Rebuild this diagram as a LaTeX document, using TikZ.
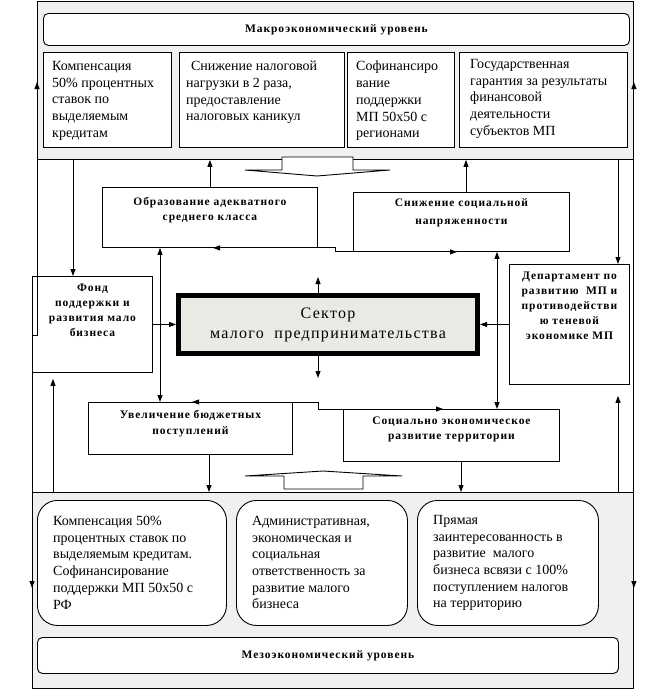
\documentclass[tikz,border=0pt]{standalone}
\usepackage{fontspec}
\setmainfont{Liberation Serif}
\newfontfamily\spfont[LetterSpace=8]{Liberation Serif}
\newfontfamily\spbold[LetterSpace=8]{Liberation Serif Bold}
\usetikzlibrary{positioning,arrows.meta}

\begin{document}
\begin{tikzpicture}[x=1pt, y=-1pt,
    panel/.style={draw, line width=0.9pt, fill=gray!12, anchor=north west, inner sep=0pt},
    box/.style={draw, line width=0.9pt, fill=white, anchor=north west, inner sep=0pt},
    roundbox/.style={box, rounded corners=20pt},
    titlebox/.style={box, rounded corners=5pt, font=\spbold\fontsize{11.5}{14}\selectfont},
    txt/.style={inner sep=0pt, align=left, font=\fontsize{14}{16.7}\selectfont},
    btxt/.style={inner sep=0pt, align=center, font=\spbold\fontsize{11.5}{15}\selectfont},
    arr/.style={line width=0.9pt, -{Triangle[length=7pt,width=5pt]}},
    arrs/.style={line width=0.9pt, {Triangle[length=7pt,width=5pt]}-{Triangle[length=7pt,width=5pt]}}
  ]
  \useasboundingbox[fill=white] (0,0) rectangle (670,699);

  % Макроуровень
  \node[panel, minimum width=596, minimum height=158] (macro) at (37,1) {};
  \node[titlebox, minimum width=586, minimum height=32] (macrotitle) at (43,13) {Макроэкономический уровень};
  \node[box, minimum width=128, minimum height=95] (m1) at (43,52) {};
  \node[box, minimum width=165, minimum height=95] (m2) at (179,52) {};
  \node[box, minimum width=107, minimum height=95] (m3) at (347,52) {};
  \node[box, minimum width=168, minimum height=95] (m4) at (459,52) {};
  \node[txt, below right=9pt and 9pt of m1.north west] {Компенсация\\50\% процентных\\ставок по\\выделяемым\\кредитам};
  \node[txt, below right=9pt and 7pt of m2.north west] {\hspace*{0.35em}Снижение налоговой\\нагрузки в 2 раза,\\предоставление\\налоговых каникул};
  \node[txt, below right=9pt and 9pt of m3.north west] {Софинансиро\\вание\\поддержки\\МП 50х50 с\\регионами};
  \node[txt, below right=7pt and 11pt of m4.north west] {Государственная\\гарантия за результаты\\финансовой\\деятельности\\субъектов МП};

  % Мезоуровень
  \node[panel, minimum width=601, minimum height=196] (meso) at (32,492) {};
  \node[roundbox, minimum width=189, minimum height=125] (b1) at (37,500) {};
  \node[roundbox, minimum width=171, minimum height=125] (b2) at (236,500) {};
  \node[roundbox, minimum width=181, minimum height=125] (b3) at (417,500) {};
  \node[titlebox, minimum width=581, minimum height=36] (mesotitle) at (37,637) {Мезоэкономический уровень};
  \node[txt, below right=16pt and 16pt of b1.north west] {Компенсация 50\%\\процентных ставок по\\выделяемым кредитам.\\Софинансирование\\поддержки МП 50х50 с\\РФ};
  \node[txt, below right=16pt and 16pt of b2.north west] {Административная,\\экономическая и\\социальная\\ответственность за\\развитие малого\\бизнеса};
  \node[txt, below right=15pt and 16pt of b3.north west] {Прямая\\заинтересованность в\\развитие\ \ малого\\бизнеса всвязи с 100\%\\поступлением налогов\\на территорию};

  % широкие стрелки
  \draw[line width=0.9pt, fill=white] (282,157) -- (282,170) -- (245,170) -- (317,176) -- (390,170) -- (353,170) -- (353,157) -- cycle;
  \draw[line width=0.9pt, fill=white] (284,489) -- (284,476) -- (245,476) -- (323,471) -- (402,476) -- (363,476) -- (363,489) -- cycle;

  % Средний уровень
  \node[box, minimum width=215, minimum height=60] (obraz) at (102,187) {};
  \node[box, minimum width=216, minimum height=59] (sniz) at (353,192) {};
  \node[box, minimum width=120, minimum height=96] (fond) at (32,276) {};
  \node[box, minimum width=120, minimum height=120] (dept) at (509,264) {};
  \node[box, minimum width=204, minimum height=52] (uvel) at (88,402) {};
  \node[box, minimum width=216, minimum height=52] (social) at (343,409) {};
  \node[box, line width=5pt, fill={rgb,255:red,234;green,234;blue,228}, minimum width=299, minimum height=58,
        align=center, font=\spfont\fontsize{16}{20}\selectfont] (sector) at (176,293) {Сектор\\малого\ \ предпринимательства};

  \node[btxt, below=10pt of obraz.north] {Образование адекватного\\среднего класса};
  \node[btxt, below=6pt of sniz.north, font=\spbold\fontsize{11.5}{18}\selectfont] {Снижение социальной\\напряженности};
  \node[btxt, below=8pt of fond.north] {Фонд\\поддержки и\\развития мало\\бизнеса};
  \node[btxt, below=8pt of dept.north] {Департамент по\\развитию\ \ МП и\\противодействи\\ю теневой\\экономике МП};
  \node[btxt, below=8pt of uvel.north, font=\spbold\fontsize{11.5}{16}\selectfont] {Увеличение бюджетных\\поступлений};
  \node[btxt, below=8pt of social.north] {Социально экономическое\\развитие территории};

  % связи
  \draw[arrs] (macro.west |- 0,82) -- (37,335) -- (fond.west |- 0,335) -- (meso.west |- 0,588);
  \draw[arrs] (macro.east |- 0,82) -- (meso.east |- 0,588);
  \draw[arr] (macro.south -| 73,0) -- (fond.north -| 73,0);
  \draw[arr, shorten >=6pt] (meso.north -| 53,0) -- (fond.south -| 53,0);
  \draw[arr] (fond) -- (sector);
  \draw[arr] (dept) -- (sector);
  \draw[arr] (sector.north -| 318,0) -- ++(0,-16);
  \draw[arr] (sector.south -| 318,0) -- ++(0,22);
  \draw[arr] (obraz.north) -- (obraz.north |- macro.south);
  \draw[arr] (sniz.north -| 466,0) -- (macro.south -| 466,0);
  \draw[arrs] (obraz.south -| 213,0) -- (obraz.south -| 335,0) -- (sniz.south -| 335,0) -- (sniz.south -| 457,0);
  \draw[arrs] (obraz.south -| 160,0) -- (uvel.north -| 160,0);
  \draw[arrs] (sniz.south -| 497,0) -- (social.north -| 497,0);
  \draw[arrs] (uvel.north -| 192,0) -- (uvel.north -| 318,0) -- (social.north -| 318,0) -- (social.north -| 443,0);
  \draw[arr] (uvel.south -| 209,0) -- (meso.north -| 209,0);
  \draw[arr] (social.south -| 461,0) -- (meso.north -| 461,0);
  \draw[arr] (macro.south -| 618,0) -- (dept.north -| 618,0);
  \draw[arr, shorten >=11pt] (meso.north -| 618,0) -- (dept.south -| 618,0);
\end{tikzpicture}
\end{document}
